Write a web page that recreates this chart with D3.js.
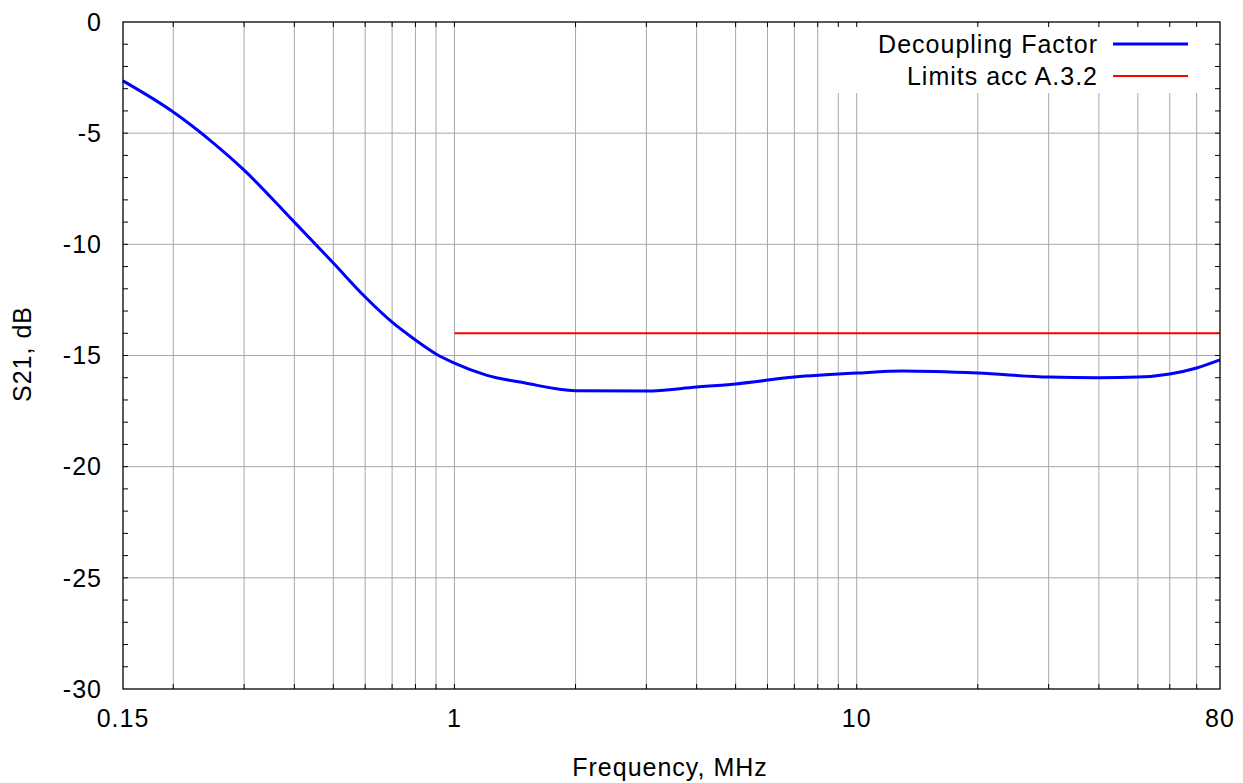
<!DOCTYPE html>
<html><head><meta charset="utf-8">
<script src="https://cdn.jsdelivr.net/npm/d3@7/dist/d3.min.js"></script>
<style>body{margin:0;background:#fff}svg{display:block;font-family:"Liberation Sans",Arial,sans-serif}svg text{letter-spacing:1px}</style>
</head><body><svg id="c" width="1243" height="783"></svg>
<script>
const freq = [0.15,0.2,0.25,0.3,0.4,0.5,0.6,0.7,0.8,0.9,1.0,1.2,1.5,2,3,4,5,7,10,13,20,30,40,50,60,70,80];
const s21  = [-2.65,-4.05,-5.4,-6.66,-9.0,-10.84,-12.37,-13.5,-14.3,-14.93,-15.34,-15.88,-16.24,-16.58,-16.6,-16.42,-16.28,-15.97,-15.79,-15.7,-15.79,-15.97,-16.0,-15.97,-15.83,-15.56,-15.2];
const limitFreq = [1,80];
const limitVal = [-14,-14];
const xTicks = [0.15,1,10,80];
const xGrid = [0.2,0.3,0.4,0.5,0.6,0.7,0.8,0.9,1,2,3,4,5,6,7,8,9,10,20,30,40,50,60,70];
const yTicks = [0,-5,-10,-15,-20,-25,-30];
const yMinor = d3.range(-29,0,1);
const seriesNames = ["Decoupling Factor","Limits acc A.3.2"];

const svg = d3.select("#c");
const L=123,R=1220,T=22,B=689;
const FS=25;
const x = d3.scaleLog().domain([0.15,80]).range([L,R]);
const y = d3.scaleLinear().domain([-30,0]).range([B,T]);

// grid
svg.append("g").selectAll("line").data(xGrid).join("line")
  .attr("x1",d=>x(d)).attr("x2",d=>x(d)).attr("y1",T).attr("y2",B)
  .attr("stroke","#a8a8a8").attr("stroke-width",1);
svg.append("g").selectAll("line").data(yTicks.filter(d=>d!==0&&d!==-30)).join("line")
  .attr("x1",L).attr("x2",R).attr("y1",d=>y(d)).attr("y2",d=>y(d))
  .attr("stroke","#a8a8a8").attr("stroke-width",1);

// minor ticks (inside)
const tk = svg.append("g").attr("stroke","#000").attr("stroke-width",1);
tk.selectAll(".ml").data(yMinor).join("line").attr("class","ml").attr("x1",L).attr("x2",L+5).attr("y1",d=>y(d)).attr("y2",d=>y(d));
tk.selectAll(".mr").data(yMinor).join("line").attr("class","mr").attr("x1",R-5).attr("x2",R).attr("y1",d=>y(d)).attr("y2",d=>y(d));
tk.selectAll(".xt").data(xGrid).join("line").attr("class","xt").attr("x1",d=>x(d)).attr("x2",d=>x(d)).attr("y1",T).attr("y2",T+5);
tk.selectAll(".xb").data(xGrid).join("line").attr("class","xb").attr("x1",d=>x(d)).attr("x2",d=>x(d)).attr("y1",B-5).attr("y2",B);

// legend background
svg.append("rect").attr("x",830).attr("y",T+1).attr("width",R-830-1).attr("height",70).attr("fill","#fff");
svg.append("g").attr("stroke","#000").selectAll("line").data(xGrid.filter(d=>x(d)>830)).join("line")
  .attr("x1",d=>x(d)).attr("x2",d=>x(d)).attr("y1",T).attr("y2",T+5);
svg.append("g").attr("stroke","#000").selectAll("line").data(yMinor.filter(d=>y(d)<T+72)).join("line")
  .attr("x1",R-5).attr("x2",R).attr("y1",d=>y(d)).attr("y2",d=>y(d));

// lines
const line = d3.line().x(d=>x(d[0])).y(d=>y(d[1])).curve(d3.curveMonotoneX);
svg.append("path").datum(limitFreq.map((f,i)=>[f,limitVal[i]])).attr("d",line)
  .attr("fill","none").attr("stroke","#ff0000").attr("stroke-width",2);
svg.append("path").datum(freq.map((f,i)=>[f,s21[i]])).attr("d",line)
  .attr("fill","none").attr("stroke","#0000ff").attr("stroke-width",3);

// frame
svg.append("rect").attr("x",L).attr("y",T).attr("width",R-L).attr("height",B-T)
  .attr("fill","none").attr("stroke","#000").attr("stroke-width",1.3);

// tick labels
svg.append("g").selectAll("text").data(yTicks).join("text")
  .attr("x",102).attr("y",d=>y(d)).attr("dy","0.35em").attr("text-anchor","end")
  .attr("font-size",FS).text(d=>d);
svg.append("g").selectAll("text").data(xTicks).join("text")
  .attr("x",d=>x(d)).attr("y",718).attr("dy","0.35em").attr("text-anchor","middle")
  .attr("font-size",FS).text(d=>d);

svg.append("text").attr("x",670).attr("y",767).attr("dy","0.35em").attr("text-anchor","middle")
  .attr("font-size",FS).text("Frequency, MHz");
svg.append("text").attr("transform","translate(22,354) rotate(-90)").attr("dy","0.35em")
  .attr("text-anchor","middle").attr("font-size",FS).text("S21, dB");

// legend
const lg = svg.append("g");
const colors=["#0000ff","#ff0000"], widths=[3,2];
seriesNames.forEach((n,i)=>{
  const yy = 44+i*32;
  lg.append("text").attr("x",1098).attr("y",yy).attr("dy","0.35em").attr("text-anchor","end")
    .attr("font-size",FS).text(n);
  lg.append("line").attr("x1",1113).attr("x2",1188).attr("y1",yy).attr("y2",yy)
    .attr("stroke",colors[i]).attr("stroke-width",widths[i]);
});
</script></body></html>
